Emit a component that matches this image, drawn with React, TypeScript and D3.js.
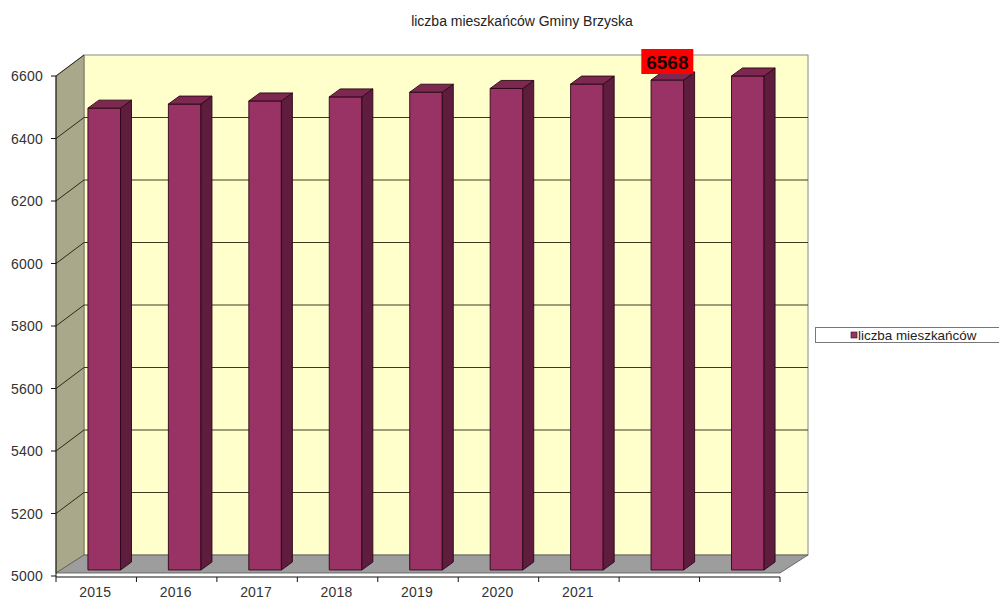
import React from "react";
import * as d3 from "d3";

const categories = ["c1", "c2", "c3", "c4", "c5", "c6", "c7", "c8", "c9"];
const tickLabels = ["2015", "2016", "2017", "2018", "2019", "2020", "2021", "", ""];
const values = [6478, 6491, 6501, 6514, 6529, 6541, 6555, 6568, 6581];
const yTicks = [5000, 5200, 5400, 5600, 5800, 6000, 6200, 6400, 6600];
const labelledIndex = 7;
const title = "liczba mieszkańców Gminy Brzyska";
const seriesName = "liczba mieszkańców";

const W = 999, H = 599;
const X0 = 56, X1 = 780, YB = 576, YT = 76;
const DX = 28, DY = -21; // wall depth
const BDX = 8, BDY = -6; // bar depth offset
const BW_DX = 11, BW_DY = -8; // bar depth
const FONT = "'Liberation Sans', Arial, sans-serif";

export default function App() {
  const x = d3.scaleBand<string>().domain(categories).range([X0, X1]).padding(0);
  const y = d3.scaleLinear().domain([5000, 6600]).range([YB, YT]);
  const bw = x.bandwidth();
  const barW = bw * 0.405;
  const floorY = YB - 3;

  const pts = (a: number[][]) => a.map((p) => p.join(",")).join(" ");

  return (
    <svg width={W} height={H} style={{ position: "absolute", left: 0, top: 0, background: "#fff" }}>
      <text x={522} y={26} textAnchor="middle" fontFamily={FONT} fontSize={14} fill="#222">{title}</text>

      {/* back wall */}
      <rect x={X0 + DX} y={YT + DY} width={X1 - X0} height={YB - YT} fill="#ffffcc" stroke="#8a8a80" strokeWidth={1} />
      {/* side wall */}
      <polygon points={pts([[X0, YT], [X0 + DX, YT + DY], [X0 + DX, YB + DY], [X0, floorY]])} fill="#aaa88a" stroke="#6f6d5a" strokeWidth={0.8} />
      {/* floor */}
      <polygon points={pts([[X0, floorY], [X1, floorY], [X1 + DX, YB + DY], [X0 + DX, YB + DY]])} fill="#9d9d9d" stroke="#555" strokeWidth={0.8} />

      {/* gridlines */}
      {yTicks.filter((t) => t > 5000).map((t) => (
        <g key={t}>
          <line x1={X0} y1={y(t)} x2={X0 + DX} y2={y(t) + DY} stroke="#2a2a1a" strokeWidth={1} />
          {t < 6600 && <line x1={X0 + DX} y1={y(t) + DY} x2={X1 + DX} y2={y(t) + DY} stroke="#3a3a20" strokeWidth={1} />}
        </g>
      ))}

      {/* bars */}
      {values.map((v, i) => {
        const bx0 = (x(categories[i]) as number) + (bw - barW) / 2 + BDX;
        const bx1 = bx0 + barW;
        const top = y(v) + BDY;
        const bot = y(5000) + BDY;
        return (
          <g key={i} stroke="#2b0716" strokeWidth={0.9} strokeLinejoin="round">
            <rect x={bx0} y={top} width={barW} height={bot - top} fill="#993366" />
            <polygon points={pts([[bx1, top], [bx1 + BW_DX, top + BW_DY], [bx1 + BW_DX, bot + BW_DY], [bx1, bot]])} fill="#5e1d3d" />
            <polygon points={pts([[bx0, top], [bx0 + BW_DX, top + BW_DY], [bx1 + BW_DX, top + BW_DY], [bx1, top]])} fill="#7c2850" />
          </g>
        );
      })}

      {/* data label */}
      {(() => {
        const i = labelledIndex;
        const cx = (x(categories[i]) as number) + bw / 2 + BDX;
        return (
          <g>
            <rect x={cx - 26} y={49} width={52} height={25} fill="#ff0000" />
            <text x={cx} y={68.5} textAnchor="middle" fontFamily={FONT} fontSize={19} fontWeight="bold" fill="#1a0000">{values[i]}</text>
          </g>
        );
      })()}

      {/* value axis */}
      <line x1={X0} y1={YT} x2={X0} y2={YB + 1} stroke="#111" strokeWidth={1} />
      {yTicks.map((t) => (
        <g key={t}>
          <line x1={X0 - 5} y1={y(t)} x2={X0} y2={y(t)} stroke="#111" />
          <text x={43} y={y(t) + 5} textAnchor="end" fontFamily={FONT} fontSize={14} fill="#333" letterSpacing={0.2}>{t}</text>
        </g>
      ))}

      {/* category axis */}
      <line x1={X0} y1={YB + 1} x2={X1} y2={YB + 1} stroke="#111" strokeWidth={1} />
      {categories.concat(["end"]).map((c, i) => {
        const tx = X0 + i * bw;
        return <line key={i} x1={tx} y1={YB + 1} x2={tx} y2={YB + 6} stroke="#111" />;
      })}
      {categories.map((c, i) => (
        <text key={c} x={(x(c) as number) + bw / 2 - 1} y={597} textAnchor="middle" fontFamily={FONT} fontSize={14} fill="#333" letterSpacing={0.2}>{tickLabels[i]}</text>
      ))}

      {/* legend */}
      <rect x={815.5} y={327.5} width={200} height={15} fill="#fff" stroke="#777" />
      <rect x={851} y={332} width={6} height={6} fill="#993366" stroke="#2b0716" strokeWidth={0.6} />
      <text x={858} y={339.5} fontFamily={FONT} fontSize={13.4} fill="#222">{seriesName}</text>
    </svg>
  );
}
